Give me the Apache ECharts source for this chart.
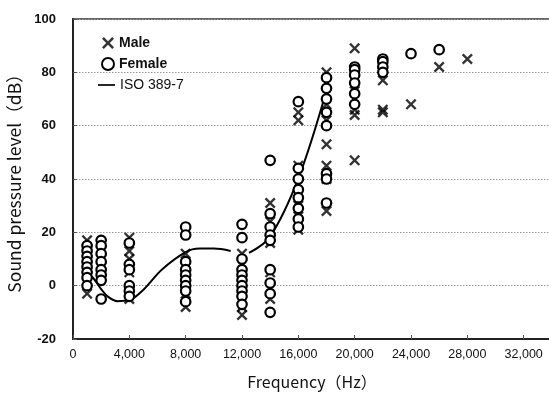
<!DOCTYPE html>
<html><head><meta charset="utf-8">
<script src="https://cdn.jsdelivr.net/npm/echarts@6/dist/echarts.min.js"></script>
<style>html,body{margin:0;padding:0;background:#fff}#c{width:549px;height:395px}</style>
</head><body><div id="c"></div>
<script>
// ---- data ----
const xTicks = [0, 4000, 8000, 12000, 16000, 20000, 24000, 28000, 32000, 36000];
const yTicks = [-20, 0, 20, 40, 60, 80, 100];

const maleData = [
 [1000,17],[1000,14],[1000,12],[1000,10],[1000,8],[1000,6],[1000,4],[1000,2],[1000,-3],
 [2000,16],[2000,13],[2000,10],[2000,7],[2000,5],[2000,3],
 [4000,18],[4000,13],[4000,10],[4000,7],[4000,5],[4000,-2],[4000,-5],
 [8000,12],[8000,7],[8000,5],[8000,3],[8000,1],[8000,-1],[8000,-3],[8000,-8],
 [12000,12],[12000,8],[12000,5],[12000,3],[12000,1],[12000,-1],[12000,-3],[12000,-5],[12000,-8],[12000,-11],
 [14000,31],[14000,24],[14000,21],[14000,18],[14000,16],[14000,5],[14000,-1],[14000,-5],
 [16000,65],[16000,62],[16000,45],[16000,42],[16000,38],[16000,35],[16000,30],[16000,26],[16000,23],[16000,21],
 [18000,80],[18000,76],[18000,72],[18000,68],[18000,62],[18000,53],[18000,45],[18000,40],[18000,28],
 [20000,89],[20000,80],[20000,77],[20000,73],[20000,70],[20000,66],[20000,64],[20000,47],
 [22000,83],[22000,77],[22000,66],[22000,65],
 [24000,68],[26000,82],[28000,85]
];
const femaleData = [
 [1000,15],[1000,13],[1000,11],[1000,9],[1000,7],[1000,5],[1000,3],[1000,0],
 [2000,17],[2000,15],[2000,12],[2000,9],[2000,6],[2000,4],[2000,2],[2000,-5],
 [4000,16],[4000,8],[4000,6],[4000,0],[4000,-2],[4000,-4],
 [8000,22],[8000,19],[8000,9],[8000,6],[8000,4],[8000,2],[8000,0],[8000,-2],[8000,-6],
 [12000,23],[12000,18],[12000,10],[12000,6],[12000,4],[12000,2],[12000,0],[12000,-2],[12000,-4],[12000,-7],
 [14000,47],[14000,27],[14000,22],[14000,19],[14000,17],[14000,6],[14000,1],[14000,-3],[14000,-10],
 [16000,69],[16000,44],[16000,40],[16000,36],[16000,33],[16000,29],[16000,25],[16000,22],
 [18000,78],[18000,74],[18000,70],[18000,65],[18000,60],[18000,42],[18000,40],[18000,31],
 [20000,82],[20000,81],[20000,79],[20000,76],[20000,72],[20000,68],
 [22000,85],[22000,84],[22000,82],[22000,80],
 [24000,87],[26000,88.5]
];
const isoFreq = [1000,1250,1600,2000,2500,3150,4000,5000,6300,8000,9000,10000,11200,11850,12500,14000,16000,18000];
const isoDb   = [2.4,3.5,1.7,-1.3,-4.2,-5.8,-5.4,-1.5,6.0,12.6,13.9,13.9,13.0,null,12.3,18.4,40.2,73.2];

// ---- chart ----
const crossPath = 'path://M1.5,0 L5,3.5 L8.5,0 L10,1.5 L6.5,5 L10,8.5 L8.5,10 L5,6.5 L1.5,10 L0,8.5 L3.5,5 L0,1.5 Z';
const isoData = isoFreq.map((f, i) => [f, isoDb[i]]);
const chart = echarts.init(document.getElementById('c'), null, {renderer: 'canvas'});
chart.setOption({
  animation: false,
  backgroundColor: '#fff',
  grid: {left: 73, top: 19, width: 507, height: 320, outerBoundsMode: 'none', containLabel: false,
         show: true, borderColor: '#333', borderWidth: 1.5, backgroundColor: 'transparent'},
  legend: [
    {orient: 'vertical', left: 96, top: 31, itemWidth: 12, itemHeight: 12, itemGap: 7,
     data: ['Male', 'Female'],
     textStyle: {fontFamily: 'Liberation Sans, Arial, sans-serif', fontSize: 14, fontWeight: 'bold', color: '#111'}},
    {orient: 'vertical', left: 93, top: 73, itemWidth: 17, itemHeight: 2,
     data: [{name: 'ISO 389-7', icon: 'path://M0,0 L20,0 L20,2 L0,2 Z'}],
     textStyle: {fontFamily: 'Liberation Sans, Arial, sans-serif', fontSize: 14, color: '#111'}}
  ],
  xAxis: {
    type: 'value', min: xTicks[0], max: xTicks[xTicks.length - 1], interval: 4000,
    name: 'Frequency（Hz）', nameLocation: 'middle', nameGap: 35,
    nameTextStyle: {fontFamily: 'Noto Sans CJK JP, sans-serif', fontSize: 16, color: '#111', padding: [0, 29, 0, 0]},
    axisLine: {show: true, onZero: false, lineStyle: {color: '#222', width: 2}},
    axisTick: {show: true, inside: true, length: 4, lineStyle: {color: '#555'}},
    axisLabel: {fontFamily: 'Liberation Sans, Arial, sans-serif', fontSize: 12.5, color: '#111', margin: 9,
      formatter: v => v.toLocaleString('en-US')},
    splitLine: {show: false}
  },
  yAxis: {
    type: 'value', min: yTicks[0], max: yTicks[yTicks.length - 1], interval: 20,
    name: 'Sound pressure level（dB）', nameLocation: 'middle', nameGap: 48,
    nameTextStyle: {fontFamily: 'Noto Sans CJK JP, sans-serif', fontSize: 17.5, color: '#111'},
    axisLine: {show: true, onZero: false, lineStyle: {color: '#222', width: 2}},
    axisTick: {show: true, inside: true, length: 4, lineStyle: {color: '#555'}},
    axisLabel: {fontFamily: 'Liberation Sans, Arial, sans-serif', fontSize: 13, fontWeight: 'bold', color: '#111', margin: 17},
    splitLine: {show: true, lineStyle: {color: '#999', type: [1.5, 1.5], width: 1}}
  },
  series: [
    {name: 'ISO 389-7', type: 'line', data: isoData, smooth: 0.35, showSymbol: false, symbol: 'none',
     connectNulls: false, lineStyle: {color: '#000', width: 2}, itemStyle: {color: '#000'}, z: 1},
    {name: 'Male', type: 'scatter', data: maleData, symbol: crossPath, symbolSize: 11,
     itemStyle: {color: '#000'}, z: 2},
    {name: 'Female', type: 'scatter', data: femaleData, symbol: 'circle', symbolSize: 9.5,
     itemStyle: {color: '#fff', borderColor: '#000', borderWidth: 2.2, opacity: 1}, z: 3}
  ]
});
</script></body></html>
